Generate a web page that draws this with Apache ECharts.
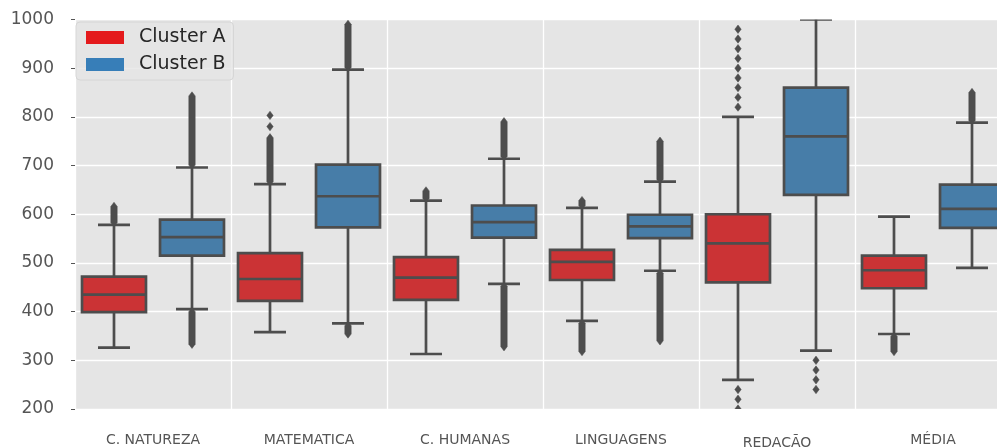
<!DOCTYPE html>
<html>
<head>
<meta charset="utf-8">
<script src="https://cdn.jsdelivr.net/npm/echarts@6/dist/echarts.min.js"></script>
<style>
  html, body { margin: 0; padding: 0; background: #ffffff; }
  #chart { width: 997px; height: 447px; }
</style>
</head>
<body>
<div id="chart"></div>
<script>
// Exam areas on the x axis
const categories = ['C. NATUREZA', 'MATEMATICA', 'C. HUMANAS', 'LINGUAGENS', 'REDAÇÃO', 'MÉDIA'];
const clusterNames = ['Cluster A', 'Cluster B'];
const yTicks = [200, 300, 400, 500, 600, 700, 800, 900, 1000];

// Box statistics per area: [lower whisker, Q1, median, Q3, upper whisker]
const clusterABoxes = [
  [326, 399, 435, 472, 578],
  [358, 422, 467, 520, 662],
  [313, 424, 470, 512, 628],
  [381, 465, 502, 527, 613],
  [260, 460, 540, 600, 800],
  [354, 448, 485, 515, 595]
];
const clusterBBoxes = [
  [405, 515, 553, 589, 696],
  [376, 573, 637, 702, 897],
  [457, 552, 584, 618, 714],
  [484, 551, 575, 599, 667],
  [320, 640, 760, 860, 1000],
  [490, 572, 611, 661, 788]
];

// Densely packed outliers, as runs: [area index, from, to]
const clusterAOutlierRuns = [
  [0, 583, 616],
  [1, 667, 757],
  [2, 633, 648],
  [3, 618, 628],
  [3, 318, 376],
  [5, 318, 349]
];
const clusterBOutlierRuns = [
  [0, 701, 843],
  [0, 333, 400],
  [1, 902, 990],
  [1, 354, 371],
  [2, 719, 790],
  [2, 328, 452],
  [3, 672, 750],
  [3, 340, 479],
  [5, 793, 850]
];
// Isolated outliers: [area index, value]
const clusterAOutlierPoints = [
  [1, 780], [1, 803],
  [4, 820], [4, 840], [4, 860], [4, 880], [4, 900], [4, 920], [4, 940], [4, 960], [4, 980],
  [4, 240], [4, 220], [4, 200]
];
const clusterBOutlierPoints = [
  [4, 300], [4, 280], [4, 260], [4, 240]
];

const boxFill = ['#cb3335', '#477da8'];
const legendFill = ['#e41a1c', '#377eb8'];
const edge = '#4d4d4d';
const lineW = 2.7;
const hueOffset = [-0.25, 0.25];   // fraction of a category band
const boxFrac = 0.41;              // box width as fraction of a band

function boxRenderer(k, fill) {
  return function (params, api) {
    const cat = api.value(0);
    const lo = api.value(1), q1 = api.value(2), med = api.value(3), q3 = api.value(4), hi = api.value(5);
    const band = api.size([1, 0])[0];
    const cx = api.coord([cat, med])[0] + band * hueOffset[k];
    const w = band * boxFrac;
    const yLo = api.coord([cat, lo])[1];
    const yQ1 = api.coord([cat, q1])[1];
    const yMed = api.coord([cat, med])[1];
    const yQ3 = api.coord([cat, q3])[1];
    const yHi = api.coord([cat, hi])[1];
    const ls = { stroke: edge, lineWidth: lineW };
    return {
      type: 'group',
      children: [
        { type: 'line', shape: { x1: cx, y1: yQ3, x2: cx, y2: yHi }, style: ls },
        { type: 'line', shape: { x1: cx, y1: yQ1, x2: cx, y2: yLo }, style: ls },
        { type: 'line', shape: { x1: cx - w / 4, y1: yHi, x2: cx + w / 4, y2: yHi }, style: ls },
        { type: 'line', shape: { x1: cx - w / 4, y1: yLo, x2: cx + w / 4, y2: yLo }, style: ls },
        { type: 'rect', shape: { x: cx - w / 2, y: yQ3, width: w, height: yQ1 - yQ3 },
          style: { fill: fill, stroke: edge, lineWidth: lineW } },
        { type: 'line', shape: { x1: cx - w / 2, y1: yMed, x2: cx + w / 2, y2: yMed }, style: ls }
      ]
    };
  };
}

// Diamond markers; a run is a stretched diamond stack from one value to another
function outlierRenderer(k) {
  return function (params, api) {
    const cat = api.value(0);
    const from = api.value(1), to = api.value(2);
    const band = api.size([1, 0])[0];
    const cx = api.coord([cat, from])[0] + band * hueOffset[k];
    const yA = api.coord([cat, Math.max(from, to)])[1];
    const yB = api.coord([cat, Math.min(from, to)])[1];
    const hw = 3.2, hh = 4.2;
    return {
      type: 'polygon',
      shape: { points: [[cx, yA - hh], [cx + hw, yA], [cx + hw, yB], [cx, yB + hh], [cx - hw, yB], [cx - hw, yA]] },
      style: { fill: edge, stroke: edge, lineWidth: 0.5 }
    };
  };
}

const boxData = [
  clusterABoxes.map((b, i) => [i].concat(b)),
  clusterBBoxes.map((b, i) => [i].concat(b))
];
const outlierData = [
  clusterAOutlierRuns.concat(clusterAOutlierPoints.map(p => [p[0], p[1], p[1]])),
  clusterBOutlierRuns.concat(clusterBOutlierPoints.map(p => [p[0], p[1], p[1]]))
];

const series = [];
[0, 1].forEach(k => {
  series.push({
    name: clusterNames[k],
    type: 'custom',
    renderItem: boxRenderer(k, boxFill[k]),
    itemStyle: { color: legendFill[k] },
    clip: true,
    encode: { x: 0, y: [1, 2, 3, 4, 5] },
    data: boxData[k],
    z: 2
  });
  series.push({
    name: clusterNames[k],
    type: 'custom',
    renderItem: outlierRenderer(k),
    itemStyle: { color: legendFill[k] },
    clip: true,
    encode: { x: 0, y: [1, 2] },
    data: outlierData[k],
    z: 3
  });
});

const chart = echarts.init(document.getElementById('chart'), null, { renderer: 'canvas' });
chart.setOption({
  animation: false,
  backgroundColor: '#ffffff',
  grid: {
    left: 75, right: -14, top: 19.5, bottom: 38,
    outerBoundsMode: 'none',
    containLabel: false,
    show: true, backgroundColor: '#e5e5e5', borderWidth: 0
  },
  legend: {
    left: 76, top: 22,
    orient: 'vertical',
    icon: 'rect',
    itemWidth: 38, itemHeight: 13, itemGap: 8,
    padding: [6, 8, 6, 10],
    backgroundColor: 'rgba(229,229,229,0.8)',
    borderColor: '#d6d6d6', borderWidth: 1, borderRadius: 4,
    textStyle: { fontFamily: 'DejaVu Sans', fontSize: 19, color: '#262626', padding: [0, 0, 0, 10] },
    data: clusterNames.map((n, k) => ({ name: n, itemStyle: { color: legendFill[k] } })),
    selectedMode: false
  },
  xAxis: {
    type: 'category',
    data: categories,
    axisLine: { show: false },
    axisTick: { show: false },
    splitLine: { show: true, lineStyle: { color: '#ffffff', width: 1.3 } },
    axisLabel: {
      margin: 24,
      fontFamily: 'DejaVu Sans', fontSize: 14, color: '#555555',
      formatter: v => (v === 'REDAÇÃO' ? '{low|' + v + '}' : v),
      rich: { low: { fontFamily: 'DejaVu Sans', fontSize: 14, color: '#555555', padding: [3, 0, 0, 0] } }
    }
  },
  yAxis: {
    type: 'value',
    min: yTicks[0], max: yTicks[yTicks.length - 1], interval: 100,
    axisLine: { show: false },
    axisTick: { show: true, length: 4, lineStyle: { color: '#555555', width: 1 } },
    splitLine: { show: true, lineStyle: { color: '#ffffff', width: 1.3 } },
    axisLabel: {
      margin: 21, fontFamily: 'DejaVu Sans', fontSize: 17, color: '#555555',
      formatter: v => String(v)
    }
  },
  series: series
});
</script>
</body>
</html>
